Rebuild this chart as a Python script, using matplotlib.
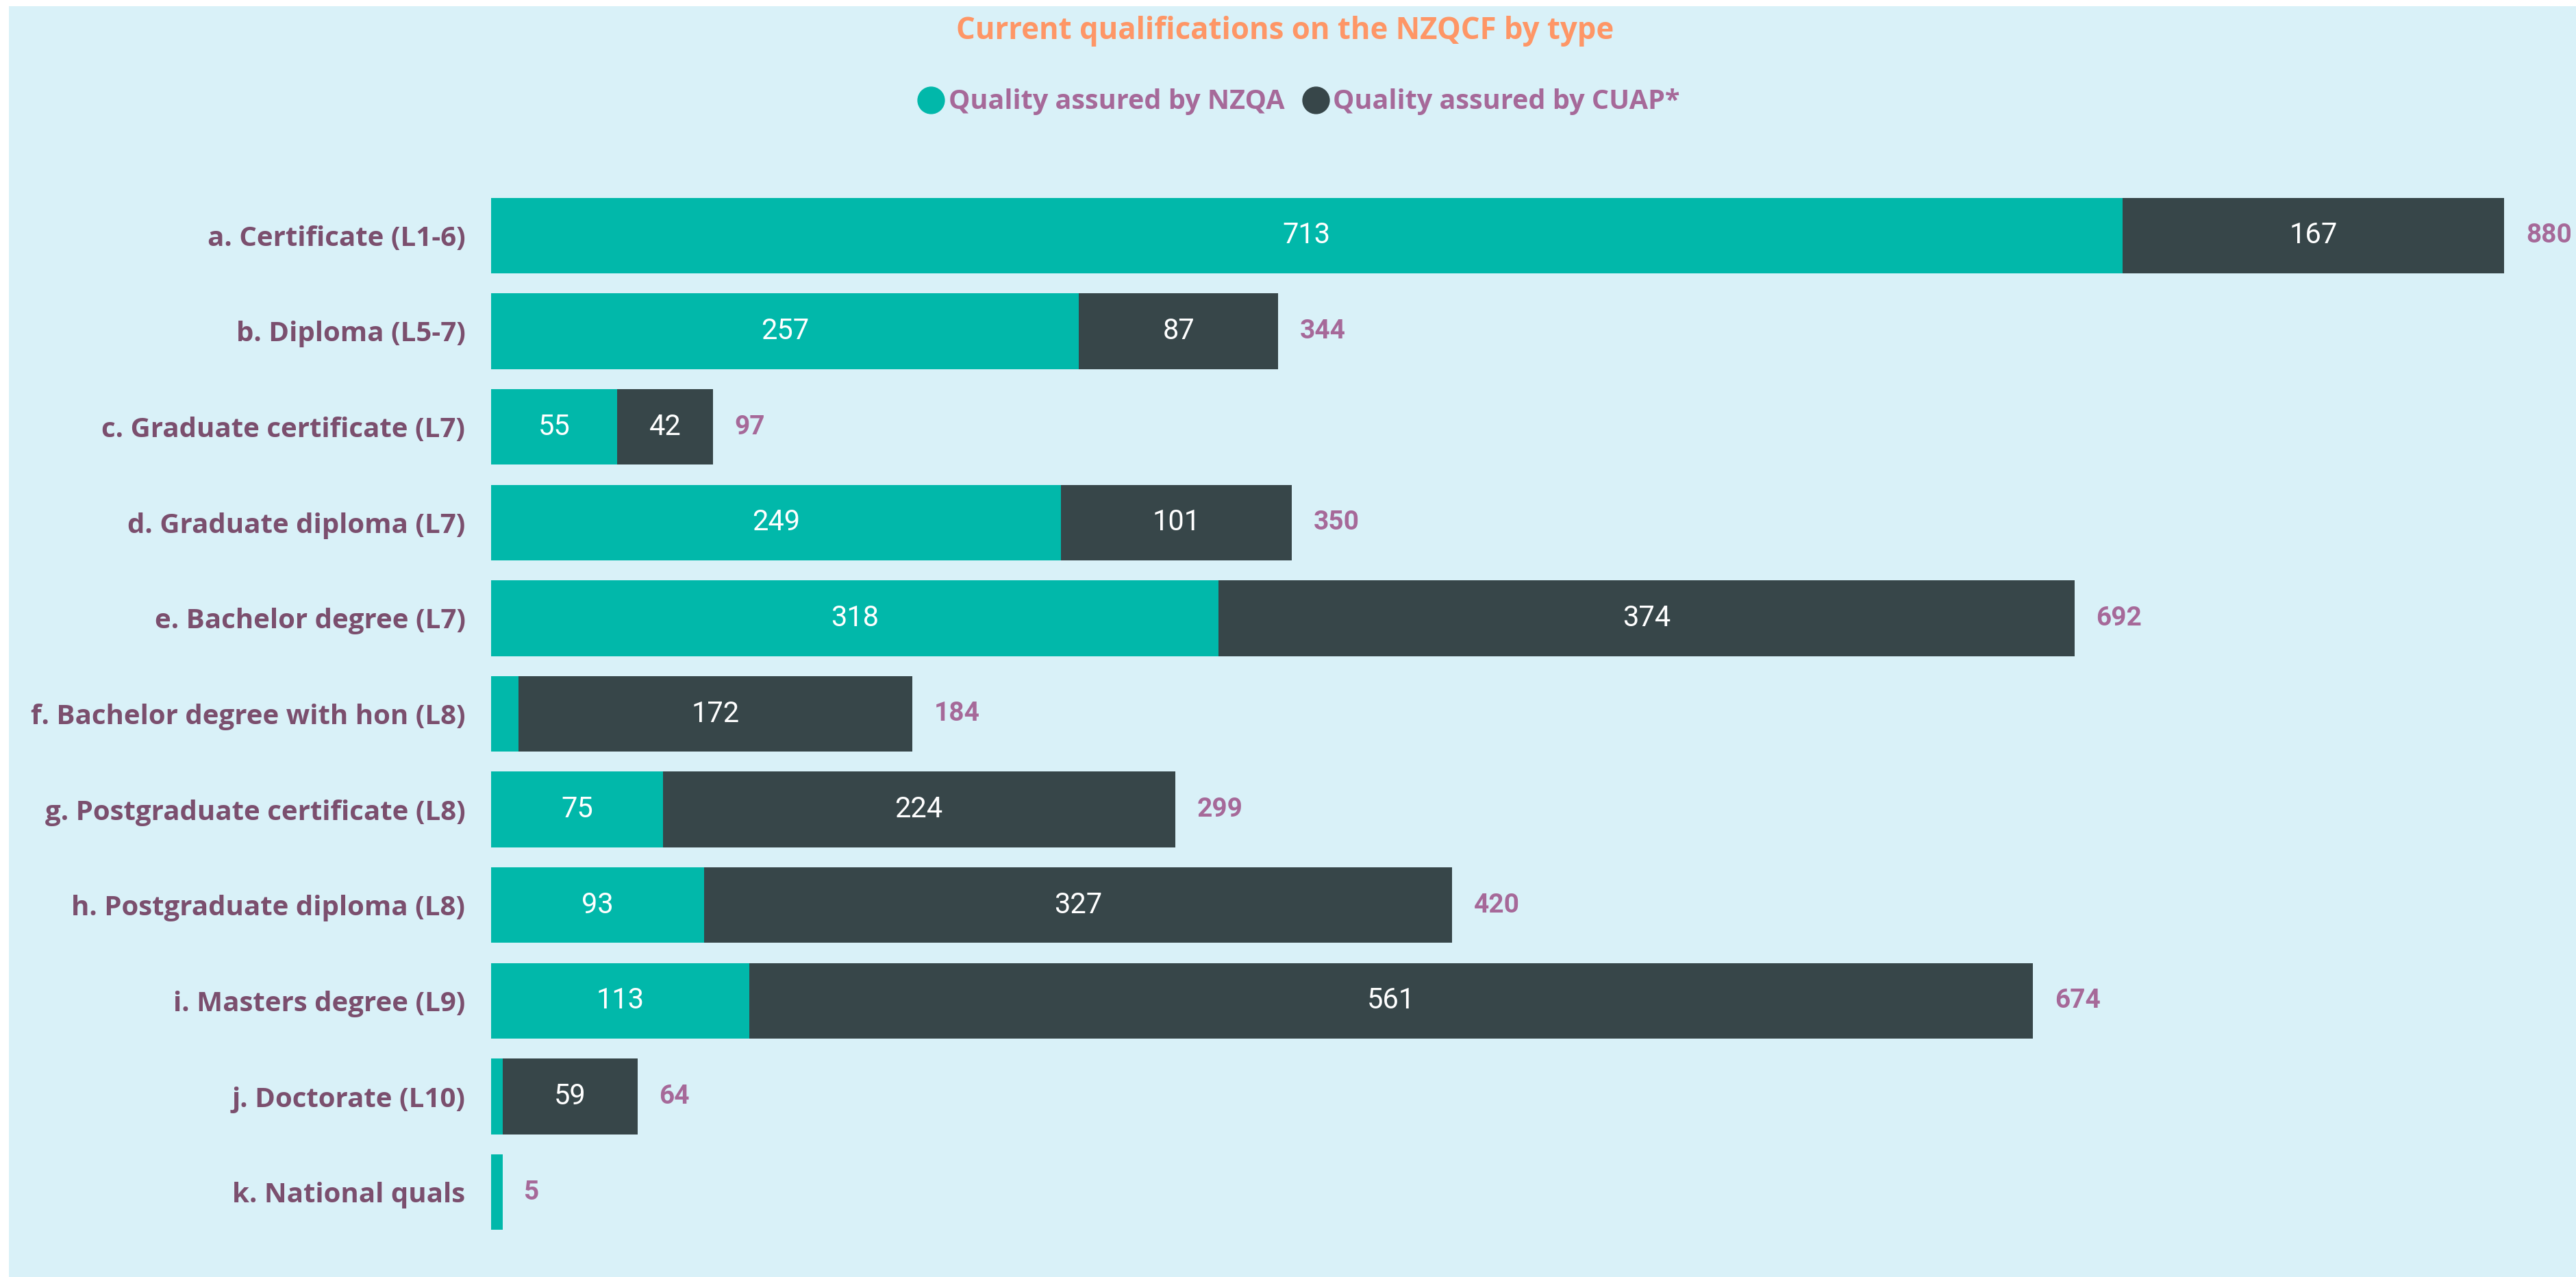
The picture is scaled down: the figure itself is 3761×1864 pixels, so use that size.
import matplotlib
matplotlib.use("Agg")
import matplotlib.pyplot as plt
from matplotlib.lines import Line2D
from matplotlib.patches import Rectangle

# data
categories = ["a. Certificate (L1-6)", "b. Diploma (L5-7)", "c. Graduate certificate (L7)",
              "d. Graduate diploma (L7)", "e. Bachelor degree (L7)",
              "f. Bachelor degree with hon (L8)", "g. Postgraduate certificate (L8)",
              "h. Postgraduate diploma (L8)", "i. Masters degree (L9)",
              "j. Doctorate (L10)", "k. National quals"]
nzqa = [713, 257, 55, 249, 318, 12, 75, 93, 113, 5, 5]
cuap = [167, 87, 42, 101, 374, 172, 224, 327, 561, 59, 0]
series_names = ["Quality assured by NZQA", "Quality assured by CUAP*"]

TEAL = "#01B8AA"
DARK = "#374649"
BG = "#D9F1F8"
LABEL = "#7B4F6E"
TOTAL = "#A66999"
TITLE = "#FE9666"

bold = ["Open Sans", "DejaVu Sans"]
nums = ["Roboto", "DejaVu Sans"]

W, H = 3761, 1864
fig = plt.figure(figsize=(W / 100, H / 100), dpi=100, facecolor="white")
# light blue panel, small white strip top/left
fig.patches.append(Rectangle((13 / W, 0), 1, 1 - 9 / H, transform=fig.transFigure,
                             facecolor=BG, edgecolor="none", zorder=-10))

ax = fig.add_axes([717 / W, 54 / H, (3740 - 717) / W, 1536 / H])
ax.set_facecolor("none")

y = list(range(len(categories)))
totals = [a + b for a, b in zip(nzqa, cuap)]
ax.barh(y, nzqa, height=0.79, color=TEAL)
ax.barh(y, cuap, left=nzqa, height=0.79, color=DARK)

for i in y:
    if nzqa[i] > 20:
        ax.text(nzqa[i] / 2, i, str(nzqa[i]), ha="center", va="center",
                color="white", fontsize=30, family=nums)
    if cuap[i] > 20:
        ax.text(nzqa[i] + cuap[i] / 2, i, str(cuap[i]), ha="center", va="center",
                color="white", fontsize=30, family=nums)
    ax.text(totals[i] + 9.5, i, str(totals[i]), ha="left", va="center",
            color=TOTAL, fontsize=28, family=nums, fontweight="bold")

ax.set_xlim(0, 905)
ax.set_ylim(len(categories) - 0.5, -0.5)
ax.set_yticks(y)
ax.set_yticklabels(categories, family=bold, fontweight="bold", fontsize=29, color=LABEL)
ax.tick_params(axis="y", length=0, pad=27)
ax.set_xticks([])
for s in ax.spines.values():
    s.set_visible(False)

fig.text(0.4988, 1 - 46 / H, "Current qualifications on the NZQCF by type", ha="center",
         va="center", color=TITLE, fontsize=31.5, fontweight="bold", family=bold)

handles = [Line2D([], [], marker="o", linestyle="none", markersize=28, color=c)
           for c in (TEAL, DARK)]
fig.legend(handles, series_names, loc="center", bbox_to_anchor=(0.5015, 1 - 149 / H),
           ncol=2, frameon=False, handletextpad=-0.35, columnspacing=0.15,
           prop={"family": bold, "weight": "bold", "size": 28.5}, labelcolor=TOTAL)

fig.savefig("out.png", dpi=100, facecolor="white")
